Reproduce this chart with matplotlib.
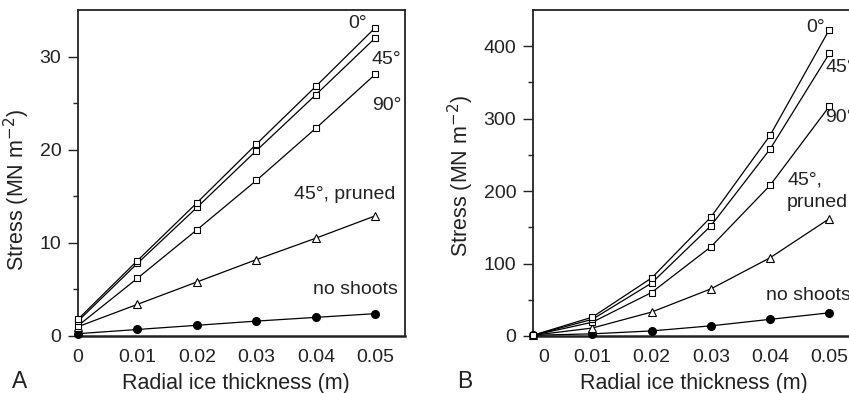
import matplotlib
matplotlib.use("Agg")
import matplotlib.pyplot as plt
import matplotlib.transforms as mtransforms

plt.rcParams['font.family'] = ['Liberation Sans', 'DejaVu Sans']

thickness = [0.0, 0.01, 0.02, 0.03, 0.04, 0.05]

# Panel A: stress on the branch
a_0deg = [1.8, 8.1, 14.3, 20.6, 26.8, 33.1]
a_45deg = [1.6, 7.8, 13.8, 19.9, 25.9, 32.0]
a_90deg = [1.1, 6.2, 11.4, 16.7, 22.3, 28.1]
a_pruned = [1.0, 3.4, 5.8, 8.2, 10.5, 12.9]
a_noshoots = [0.25, 0.7, 1.15, 1.6, 2.0, 2.4]

# Panel B: stress at the branch base
b_0deg = [1, 26, 80, 164, 277, 423]
b_45deg = [1, 23, 73, 152, 258, 390]
b_90deg = [1, 19, 60, 123, 208, 317]
b_pruned = [1, 11, 33, 65, 108, 162]
b_noshoots = [1, 3, 7, 14, 23, 32]

xticks = [0, 0.01, 0.02, 0.03, 0.04, 0.05]
xtick_labels = ['0', '0.01', '0.02', '0.03', '0.04', '0.05']

W, H = 849, 393
fig = plt.figure(figsize=(W / 100, H / 100), dpi=100)

def px_axes(l, r, t, b):
    return fig.add_axes([l / W, 1 - b / H, (r - l) / W, (b - t) / H])

axA = px_axes(78, 405, 10, 336)
axB = px_axes(533, 859, 10, 336)

sq = dict(marker='s', ms=5, mfc='white', mec='black', mew=0.8)
tri = dict(marker='^', ms=5.5, mfc='white', mec='black', mew=0.8)
dot = dict(marker='o', ms=5.5, mfc='black', mec='black')

def draw(ax, series):
    for ys, style in series:
        ax.plot(thickness, ys, color='black', lw=0.9, clip_on=False, zorder=3, **style)

draw(axA, [(a_noshoots, dot), (a_pruned, tri), (a_90deg, sq), (a_45deg, sq), (a_0deg, sq)])
draw(axB, [(b_noshoots, dot), (b_pruned, tri), (b_90deg, sq), (b_45deg, sq), (b_0deg, sq)])

tfs = 14   # tick labels and curve labels
lfs = 15.5 # axis titles
ink = '#222222'
for ax, ylim, major, minor in [(axA, 35, [0, 10, 20, 30], [5, 15, 25]),
                               (axB, 450, [0, 100, 200, 300, 400], [50, 150, 250, 350])]:
    ax.set_xlim(0, 0.055)
    ax.set_ylim(0, ylim)
    ax.set_xticks(xticks)
    ax.set_xticklabels(xtick_labels)
    ax.set_yticks(major)
    ax.set_yticks(minor, minor=True)
    ax.tick_params(axis='y', which='major', direction='out', length=7, width=1.0,
                   labelsize=tfs, pad=5, color=ink, labelcolor=ink)
    ax.tick_params(axis='y', which='minor', direction='out', length=3.5, width=1.0,
                   color=ink)
    ax.tick_params(axis='x', length=0, labelsize=tfs, labelcolor=ink, pad=9.5)
    for s in ax.spines.values():
        s.set_linewidth(1.3)
        s.set_color(ink)
    ax.spines['bottom'].set_linewidth(1.8)
    ax.set_ylabel('Stress (MN m$^{-2}$)', fontsize=lfs, color=ink)
    ax.set_xlabel('Radial ice thickness (m)', fontsize=lfs, color=ink)

# shift the "0" label on panel B clear of the y-axis
lbl0 = axB.get_xticklabels()[0]
lbl0.set_transform(lbl0.get_transform() + mtransforms.ScaledTranslation(11 / 100, 0, fig.dpi_scale_trans))

axA.yaxis.set_label_coords(-0.141, 0.448)
axB.yaxis.set_label_coords(-0.175, 0.49)
axA.xaxis.set_label_coords(0.482, -0.115)
axB.xaxis.set_label_coords(0.495, -0.112)

fig.text(12 / W, 1 - 382 / H, 'A', fontsize=16.5, va='center', ha='left', color=ink)
fig.text(457 / W, 1 - 382 / H, 'B', fontsize=16.5, va='center', ha='left', color=ink)

def ptext(x, y, s, ha='left'):
    fig.text(x / W, 1 - y / H, s, fontsize=tfs, ha=ha, va='center', color=ink)

# Panel A curve labels
ptext(367, 23, '0°', ha='right')
ptext(372, 59, '45°')
ptext(372, 105, '90°')
ptext(395, 194, '45°, pruned', ha='right')
ptext(398, 290, 'no shoots', ha='right')

# Panel B curve labels
ptext(825, 27, '0°', ha='right')
ptext(825, 68, '45°')
ptext(825, 117, '90°')
ptext(787, 180, '45°,')
ptext(787, 202, 'pruned')
ptext(766, 295, 'no shoots')

fig.savefig('out.png', dpi=100)
